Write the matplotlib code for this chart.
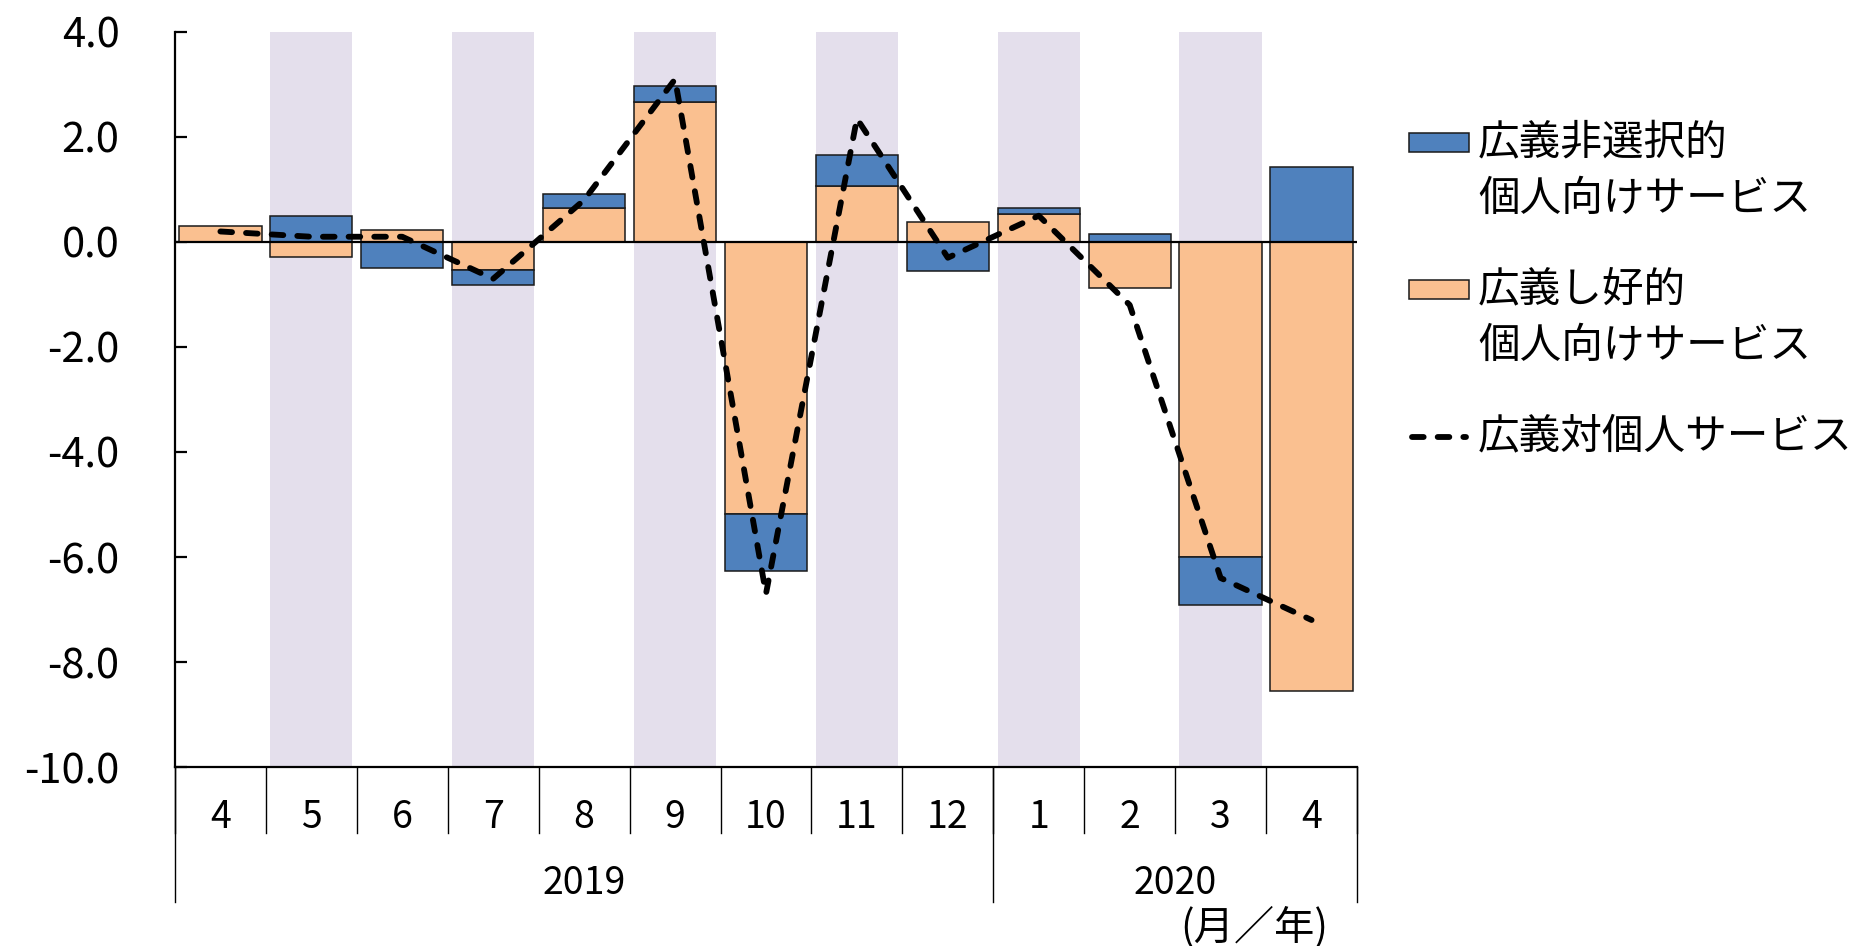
import numpy as np
import matplotlib
matplotlib.use('Agg')
import matplotlib.pyplot as plt
from matplotlib.patches import Rectangle
from matplotlib.lines import Line2D

plt.rcParams['font.family'] = ['Noto Sans CJK JP', 'DejaVu Sans']
plt.rcParams['axes.unicode_minus'] = False

# data
months = ['4', '5', '6', '7', '8', '9', '10', '11', '12', '1', '2', '3', '4']
years = ['2019', '2020']
year_start = [0, 9]          # index of first month of each year
nonselective = [0.0, 0.50, -0.49, -0.28, 0.27, 0.31, -1.07, 0.60, -0.55, 0.12, 0.16, -0.91, 1.43]
discretionary = [0.31, -0.28, 0.22, -0.54, 0.65, 2.66, -5.19, 1.06, 0.39, 0.53, -0.88, -6.00, -8.55]
total = [0.2, 0.1, 0.1, -0.7, 0.8, 3.1, -6.7, 2.35, -0.3, 0.5, -1.2, -6.4, -7.2]
shaded = [1, 3, 5, 7, 9, 11]

label_blue = ['広義非選択的', '個人向けサービス']
label_orange = ['広義し好的', '個人向けサービス']
label_line = '広義対個人サービス'

blue = '#4F81BD'
orange = '#FAC090'
band = '#E4DFEC'
edge = '#1a1a1a'
dash = (0, (2.0, 2.4))
lw_line = 4.2
ymin, ymax = -10, 4
W = 0.905

x = np.arange(len(months))
d = np.array(discretionary)
n = np.array(nonselective)
n_bottom = np.where(np.sign(n) == np.sign(d), d, 0)

fig = plt.figure(figsize=(18.61, 9.46), dpi=100)
ax = fig.add_axes([0.094, 0.1892, 0.6352, 0.777])

ax.bar(shaded, ymax - ymin, bottom=ymin, width=W, color=band, zorder=0)
ax.bar(x, d, width=W, color=orange, edgecolor=edge, lw=1.1, zorder=2)
ax.bar(x, n, bottom=n_bottom, width=W, color=blue, edgecolor=edge, lw=1.1, zorder=2)
ax.axhline(0, color='black', lw=1.6, zorder=3)
ax.plot(x, total, color='black', lw=lw_line, ls=dash, dash_capstyle='round', zorder=4)

ax.set_xlim(-0.5, len(months) - 0.5)
ax.set_ylim(ymin, ymax)
ax.set_yticks(np.arange(ymin, ymax + 0.1, 2))
ax.set_yticklabels(['%.1f' % v for v in np.arange(ymin, ymax + 0.1, 2)])
ax.set_xticks(x, months)
for s in ['top', 'right']:
    ax.spines[s].set_visible(False)
for s in ['left', 'bottom']:
    ax.spines[s].set_linewidth(1.6)
ax.tick_params(axis='y', direction='in', length=8.6, width=1.6, pad=40, labelsize=30)
ax.tick_params(axis='x', length=0, pad=22, labelsize=27)

# category separators below the axis
trans = ax.get_xaxis_transform()
for b in np.arange(len(months) + 1) - 0.5:
    ax.plot([b, b], [0, -0.09], transform=trans, clip_on=False, color='black', lw=1)
bounds = year_start + [len(months)]
for b in bounds:
    ax.plot([b - 0.5, b - 0.5], [0, -0.184], transform=trans, clip_on=False, color='black', lw=1)
for k, yr in enumerate(years):
    mid = (bounds[k] + bounds[k + 1] - 1) / 2
    ax.text(mid, -0.158, yr, transform=trans, ha='center', va='center', fontsize=27)

fig.text(0.674, 0.019, '(月／年)', ha='center', va='center', fontsize=29)

# legend drawn by hand so the key sits beside the first line of each label
W_f, H_f = 1861, 946
def fx(px):
    return px / W_f
def fy(py):
    return 1 - py / H_f

for color, lines_, y0 in [(blue, label_blue, 143), (orange, label_orange, 290)]:
    fig.add_artist(Rectangle((fx(1409), fy(y0 + 9.5)), 60 / W_f, 19 / H_f,
                             transform=fig.transFigure, facecolor=color,
                             edgecolor=edge, lw=1.1))
    for i, t in enumerate(lines_):
        fig.text(fx(1478), fy(y0 + 56 * i), t, ha='left', va='center', fontsize=30)

fig.add_artist(Line2D([fx(1412), fx(1466)], [fy(437), fy(437)], transform=fig.transFigure,
                      color='black', lw=lw_line, ls=dash, dash_capstyle='round'))
fig.text(fx(1478), fy(437), label_line, ha='left', va='center', fontsize=30)

fig.savefig('out.png', dpi=100)
